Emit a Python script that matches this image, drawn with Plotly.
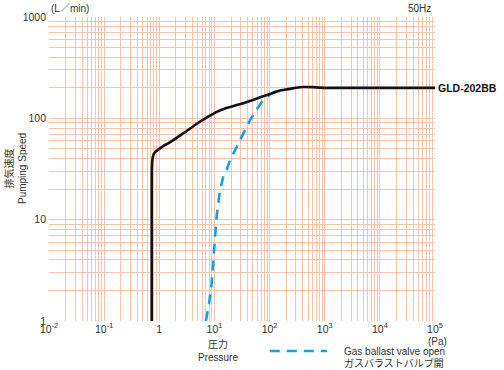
import math
import plotly.graph_objects as go

# Main curve (GLD-202BB), pressure [Pa] vs pumping speed [L/min]
p_main = [0.73, 0.73, 0.73, 0.735, 0.75, 0.78, 0.84, 0.9, 1.0, 1.18, 1.4, 1.8, 2.4, 3.14, 4.2, 5.47, 8.0, 11.0, 16.0, 22.0, 33.4, 50.0, 70.0, 102.0, 150.0, 204.0, 300.0, 410.0, 600.0, 1000.0, 10000.0, 100000.0]
s_main = [1.0, 10.0, 25.0, 33.0, 39.0, 43.4, 46.5, 48.0, 50.0, 53.3, 56.0, 61.0, 68.0, 75.0, 84.0, 92.6, 105.0, 116.0, 126.0, 132.0, 140.6, 152.0, 162.0, 174.0, 187.0, 193.0, 200.0, 204.0, 203.0, 200.0, 200.0, 200.0]

# Gas ballast valve open curve
p_gb = [7.0, 8.0, 8.9, 9.6, 10.2, 11.0, 12.6, 14.5, 16.7, 19.2, 23.6, 31.2, 44.2, 60.0, 77.0, 100.0, 140.0]
s_gb = [1.0, 1.5, 2.35, 4.0, 7.5, 11.0, 19.6, 26.5, 31.0, 38.7, 48.6, 66.0, 96.0, 125.0, 152.0, 172.0, 187.0]

x_tickvals = [1e-2, 1e-1, 1, 1e1, 1e2, 1e3, 1e4, 1e5]
x_ticktext = ["10<sup>-2</sup>", "10<sup>-1</sup>", "1", "10<sup>1</sup>", "10<sup>2</sup>",
              "10<sup>3</sup>", "10<sup>4</sup>", "10<sup>5</sup>"]
y_tickvals = [1, 10, 100, 1000]
y_ticktext = ["1", "10", "100", "1000"]

GRID = "#f7c3ab"
FONT = "Liberation Sans, Arial, Noto Sans CJK JP, sans-serif"
TXT = "#333333"
BLUE = "#16a0e0"
FS = 10

fig = go.Figure()
fig.add_trace(go.Scatter(x=p_gb, y=s_gb, mode="lines",
                         line=dict(color=BLUE, width=2.6, dash="10px,7px"),
                         showlegend=False, hoverinfo="skip"))
fig.add_trace(go.Scatter(x=p_main, y=s_main, mode="lines",
                         line=dict(color="#111111", width=2.6, shape="spline", smoothing=0.4),
                         showlegend=False, hoverinfo="skip"))

fig.update_xaxes(type="log", range=[-2, 5], tickvals=x_tickvals, ticktext=x_ticktext,
                 showgrid=True, gridcolor=GRID, gridwidth=1, zeroline=False,
                 showline=False, ticks="", tickfont=dict(size=10.5, color=TXT, family=FONT),
                 minor=dict(showgrid=True, gridcolor=GRID, gridwidth=1, dtick="D1", ticks=""))
fig.update_yaxes(type="log", range=[0, 3], tickvals=y_tickvals, ticktext=y_ticktext,
                 showgrid=True, gridcolor=GRID, gridwidth=1, zeroline=False,
                 showline=False, ticks="", ticklabelstandoff=2,
                 tickfont=dict(size=10.5, color=TXT, family=FONT),
                 minor=dict(showgrid=True, gridcolor=GRID, gridwidth=1, dtick="D1", ticks=""))

model_level = s_main[-1]

ann = [
    dict(x=0, y=1, xref="paper", yref="paper", xanchor="left", yanchor="bottom", yshift=1,
         text="(L／min)", font=dict(size=FS, color=TXT, family=FONT)),
    dict(x=1, y=1, xref="paper", yref="paper", xanchor="right", yanchor="bottom", yshift=1, xshift=-2,
         text="50Hz", font=dict(size=FS, color=TXT, family=FONT)),
    dict(x=1, y=math.log10(model_level), xref="paper", yref="y", xanchor="left", yanchor="middle", xshift=1,
         text="<b>GLD-202BB</b>", font=dict(size=10.5, color="#111111",
                                             family="Liberation Sans, Arial, sans-serif")),
    dict(x=1, y=0, xref="paper", yref="paper", xanchor="center", yanchor="top", yshift=-13, xshift=2,
         text="(Pa)", font=dict(size=FS, color=TXT, family=FONT)),
    dict(x=0.438, y=0, xref="paper", yref="paper", xanchor="center", yanchor="top", yshift=-15,
         text="圧力<br>Pressure", align="center", font=dict(size=FS, color=TXT, family=FONT)),
    dict(x=-0.088, y=0.5, xref="paper", yref="paper", xanchor="center", yanchor="middle",
         text="排気速度<br>Pumping Speed", align="center", textangle=-90,
         font=dict(size=FS, color=TXT, family=FONT)),
    dict(x=0.759, y=0, xref="paper", yref="paper", xanchor="left", yanchor="middle", yshift=-30,
         text="Gas ballast valve open", font=dict(size=FS, color=TXT, family=FONT)),
    dict(x=0.759, y=0, xref="paper", yref="paper", xanchor="left", yanchor="middle", yshift=-42,
         text="ガスバラストバルブ開", font=dict(size=FS, color=TXT, family=FONT)),
]
for a in ann:
    a["showarrow"] = False
fig.update_layout(annotations=ann)

# legend sample line (paper coords)
fig.add_shape(type="line", xref="paper", yref="paper", x0=0.572, x1=0.72, y0=-0.0987, y1=-0.0987,
              line=dict(color=BLUE, width=2.6, dash="10px,7px"))

fig.update_layout(width=504, height=370, margin=dict(l=49, r=69, t=17, b=49),
                  paper_bgcolor="white", plot_bgcolor="white", hovermode=False,
                  font=dict(family=FONT, color=TXT, size=FS), showlegend=False)

fig.write_html("out.html", config={"displayModeBar": False, "staticPlot": True},
               post_script="document.body.style.margin='0';")
